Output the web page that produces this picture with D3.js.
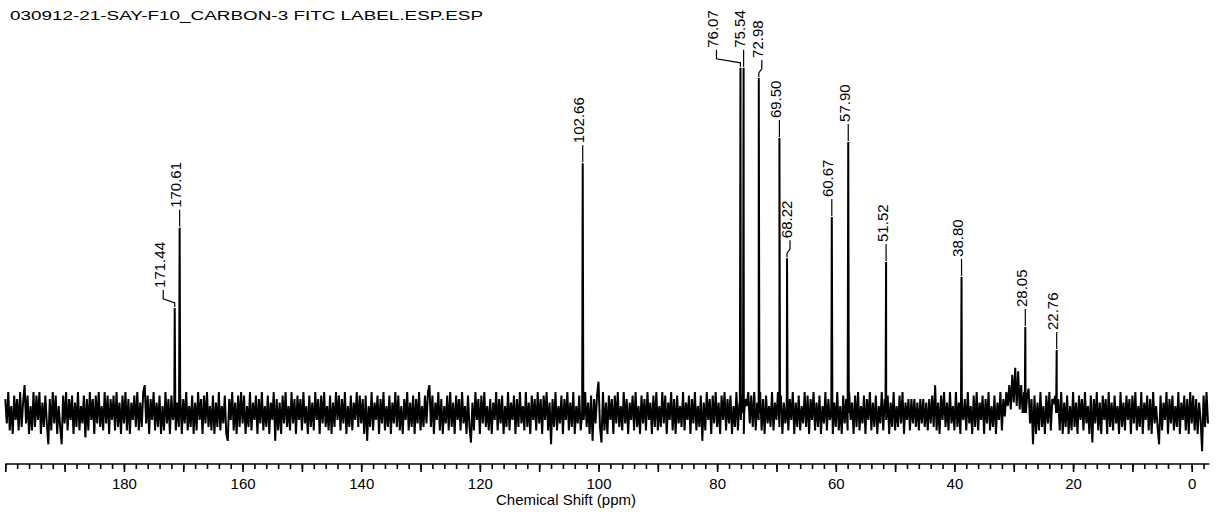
<!DOCTYPE html>
<html><head><meta charset="utf-8">
<script src="https://cdn.jsdelivr.net/npm/d3@7"></script>
<style>
html,body{margin:0;padding:0;background:#fff;}
svg{display:block;font-family:"Liberation Sans",Arial,sans-serif;}
</style></head>
<body><svg id="chart" width="1216" height="512"></svg>
<script>
// ---- data ----
const title = "030912-21-SAY-F10_CARBON-3 FITC LABEL.ESP.ESP";
const axisTitle = "Chemical Shift (ppm)";
const peakPpm    = [171.44, 170.61, 102.66, 76.07, 75.54, 72.98, 69.50, 68.22, 60.67, 57.90, 51.52, 38.80, 28.05, 22.76];
const peakHeight = [30.2, 53.2, 71.8, 99.2, 99.2, 96.3, 79.0, 44.5, 56.3, 77.9, 43.4, 39.1, 24.7, 18.1];
const tickLabels = [180, 160, 140, 120, 100, 80, 60, 40, 20, 0];
const noiseStart = 200, noiseStep = 0.25;   // ppm of first noise sample, spacing
const noise = [
 4,-3,6,-5,2,-6,5,-2,4,-5, 6,-4,3,8,-3,5,-6,2,-5,6, -4,5,-2,6,-6,3,-4,5,-3,-9, 4,-5,6,-3,5,-6,2,-4,-9,5,
 -3,6,-5,4,-2,5,-6,3,-4,6, -5,2,-3,5,-7,4,-5,6,-2,4, -6,5,-3,6,-4,2,-5,6,-3,5, -6,4,-2,5,-5,6,-4,3,-6,5,
 -3,6,-5,4,-6,3,-2,5,-4,6, -5,3,-4,6,8,-3,5,-6,4,-2, 6,-5,3,-4,5,-6,2,-5,6,-3, 4,-6,5,-2,6,-5,3,-4,5,-6,
 4,-3,6,-5,2,-4,5,-6,3,-5, 6,-2,4,-6,5,-3,6,-4,2,-5, 5,-6,3,-4,6,-5,2,-3,5,-6, -8,4,-2,6,-5,3,-6,5,-4,6,
 -3,5,-6,2,-4,6,-5,3,-2,5, -6,4,-3,6,-5,2,-4,5,-6,3, -2,6,-8,4,-5,3,-6,5,-3,6, -4,2,-5,6,-3,4,-6,5,-2,4,
 -5,6,-3,2,-6,5,-4,3,-5,6, -2,4,-6,5,-3,6,-4,2,-5,5, -6,3,-4,6,-2,5,-5,4,-3,6, -6,2,-4,5,-5,3,-2,6,-4,5,
 -3,4,-6,5,-8,2,-4,6,-5,3, -2,5,-6,4,-3,6,-5,2,-4,5, -6,3,-3,6,-4,5,-5,2,-6,4, -2,6,-5,3,-4,5,-6,4,-3,6,
 -5,2,-4,5,-3,6,8,-4,5,-6, 3,-2,6,-5,4,-6,2,-3,5,-5, 6,-4,3,-6,5,-2,4,-5,6,-3, 2,-6,5,-4,-8.5,3,-5,6,-2,4,
 -6,5,-3,6,-4,2,-5,4,-6,3, -2,6,-5,4,-3,5,-6,2,-4,6, -5,3,-2,5,-6,4,-4,6,-3,2, -5,6,-4,3,-6,5,-2,4,-5,6,
 -3,4,-6,5,-2,6,-5,3,-9,4, -4,6,-5,2,-3,5,-6,4,-2,6, -5,3,-4,6,-6,2,-3,5,-5,4, -2,6,-4,3,-6,5,-8,4,-3,5,
 9,-4,-8.5,6,-5,3,-6,5,-2,4, -6,5,-3,6,-4,2,-5,6,-3,4, -6,3,-2,5,-5,6,-4,2,-6,5, -3,4,-5,6,-2,3,-6,5,-4,6,
 -5,2,-4,6,-3,5,-6,3,-2,6, -5,4,-6,5,-3,2,-4,6,-5,3, -2,5,-6,4,-3,6,-5,2,-4,5, -8,3,-5,6,-2,4,-6,5,-3,6,
 -4,3,-6,5,-2,6,-5,4,-3,5, -6,2,-4,6,-5,3,-2,5,-6,4, 2,6,-3,5,-4,6,-5,3,-2,6, -5,4,-6,5,-3,2,-4,6,-5,3,
 -2,6,-4,5,-6,3,-3,5,-5,4, -2,6,-6,3,-4,5,-5,2,-3,6, -4,5,-6,4,-2,6,-5,3,-4,5, -6,2,-3,6,-5,4,-2,5,-6,3,
 -4,6,-5,2,-6,5,-3,4,-5,6, -2,3,-6,5,-4,6,-5,2,-3,5, -6,4,-2,6,-5,3,-4,5,-6,2, -3,6,-5,4,-2,5,-6,3,-4,6,
 -5,2,-4,5,-3,6,-6,3,-2,4, -5,4,-3,4,-4,3,-5,4,-3,4, -4,3,-5,4,-3,5,-4,8,-5,3, -6,5,-2,6,-4,3,-5,6,-3,2,
 -5,6,-4,3,-6,5,-2,4,-5,6, -3,2,-6,5,-4,6,-5,3,-2,5, -6,4,-3,6,-5,2,-4,5,-6,3, -2,6,-5,4,-1,6,2,8,1,11,
 3,13,2,12,1,8,0,6,1,5, 7,-3,4,-9,5,-6,3,-5,6,-4, 2,-6,5,-3,6,-5,4,3,5,2, 4,-5,6,-6,3,-4,5,-6,2,-5,
 6,-4,3,-6,5,-2,4,-5,6,-3, 2,-6,5,-8.5,4,-3,6,-5,3,-6, 5,-2,4,-6,6,-4,3,-5,5,-3, 2,-6,6,-4,3,-5,5,-2,4,-6,
 5,-3,6,-5,2,-4,6,-6,3,-2, 5,-5,4,-6,6,-3,2,-4,-9,5, -5,3,-2,6,-6,4,-3,5,-5,2, -4,6,-6,3,-2,5,-5,4,-6,6,
 -3,5,-5,4,-6,3,-2,-11,5,-4,6,-3
];

// ---- layout ----
const W = 1216, H = 512;
const xDomain = [200, -3], xRange = [5.3, 1209.5];
const yBase = 413, yTop = 65;
const axisY = 464;
const labelShift = {"171.44": -11.5, "76.07": -24, "72.98": 3, "68.22": 3};

const svg = d3.select("#chart");
const x = d3.scaleLinear().domain(xDomain).range(xRange);
const y = d3.scaleLinear().domain([0, 100]).range([yBase, yTop]);

// Build spectrum series
const pts = noise.map((v, i) => ({ppm: noiseStart - i * noiseStep, v}));
peakPpm.forEach((p, i) => {
  pts.push({ppm: p + 0.1, v: 0});
  pts.push({ppm: p, v: peakHeight[i]});
  pts.push({ppm: p - 0.1, v: 0});
});
pts.sort((a, b) => b.ppm - a.ppm);

svg.append("path")
  .datum(pts)
  .attr("fill", "none")
  .attr("stroke", "#000")
  .attr("stroke-width", 2)
  .attr("stroke-linejoin", "miter")
  .attr("d", d3.line().x(d => x(d.ppm)).y(d => y(d.v)));

// Title
svg.append("text")
  .attr("x", 10).attr("y", 20)
  .attr("font-size", 12.5)
  .attr("textLength", 473)
  .attr("lengthAdjust", "spacingAndGlyphs")
  .text(title);

// Axis
const minorTicks = d3.range(200, -3, -2);
const majorTicks = d3.range(200, -3, -10);
const axis = d3.axisBottom(x).tickValues(minorTicks).tickSize(5).tickFormat("");
const gAx = svg.append("g").attr("transform", `translate(0,${axisY})`).call(axis);
gAx.select(".domain").attr("d", `M${xRange[0]},0H${xRange[1]}`).attr("stroke-width", 1.6);
gAx.selectAll(".tick line").attr("stroke-width", 1.6);
const axMajor = d3.axisBottom(x).tickValues(majorTicks).tickSize(8).tickFormat("");
const gMaj = svg.append("g").attr("transform", `translate(0,${axisY})`).call(axMajor);
gMaj.select(".domain").remove();
gMaj.selectAll(".tick line").attr("stroke-width", 1.6);
const axLab = d3.axisBottom(x).tickValues(tickLabels).tickSize(0).tickPadding(14).tickFormat(d3.format("d"));
const gLab = svg.append("g").attr("transform", `translate(0,${axisY})`).call(axLab);
gLab.select(".domain").remove();
gLab.selectAll(".tick text").attr("font-size", 15).attr("font-family", "Liberation Sans, Arial, sans-serif").attr("fill", "#000");

svg.append("text")
  .attr("x", 566).attr("y", 505)
  .attr("text-anchor", "middle")
  .attr("font-size", 15)
  .text(axisTitle);

// Peak labels
peakPpm.forEach((p, i) => {
  const key = p.toFixed(2);
  const px = x(p), yt = y(peakHeight[i]);
  const lx = px + (labelShift[key] || 0);
  let d;
  if (lx === px) d = `M${px},${yt - 1}V${yt - 18}`;
  else d = `M${px},${yt - 1}V${yt - 5}L${lx},${yt - 9}V${yt - 18}`;
  svg.append("path").attr("d", d).attr("fill", "none").attr("stroke", "#000").attr("stroke-width", 1.2);
  svg.append("text")
    .attr("transform", `translate(${lx + 1.5},${yt - 20}) rotate(-90)`)
    .attr("font-size", 15)
    .attr("text-anchor", "start")
    .text(key);
});
</script>
</body></html>
